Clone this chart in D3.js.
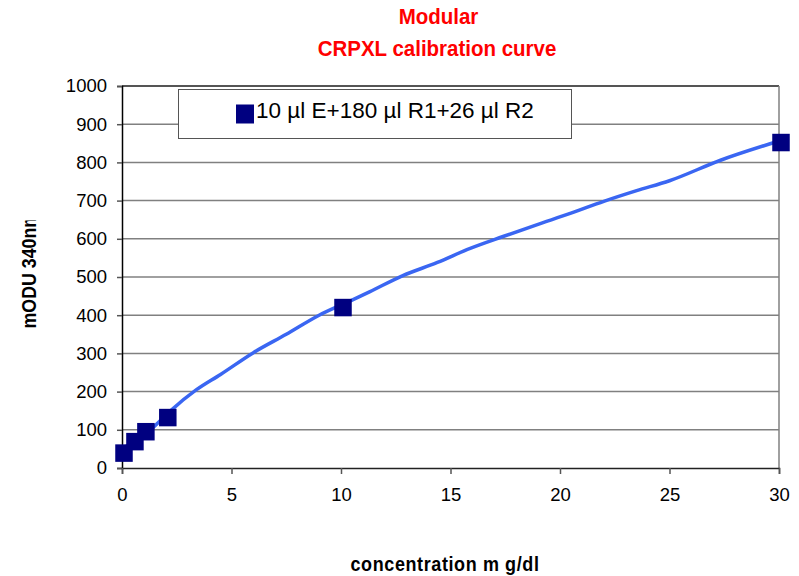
<!DOCTYPE html>
<html><head><meta charset="utf-8">
<script src="https://cdn.jsdelivr.net/npm/d3@7"></script>
<style>body{margin:0;background:#fff}svg{display:block}text{font-family:"Liberation Sans",Arial,sans-serif}</style>
</head><body>
<svg id="c" width="799" height="576"></svg>
<script>
const titleLines = ["Modular", "CRPXL calibration curve"];
const seriesName = "10 µl E+180 µl R1+26 µl R2";
const xLabel = "concentration m g/dl";
const yLabel = "mODU 340nm";
const xTicks = [0, 5, 10, 15, 20, 25, 30];
const yTicks = [0, 100, 200, 300, 400, 500, 600, 700, 800, 900, 1000];
// measured calibration points
const concentration = [0, 0.5, 1, 2, 10, 30];
const mODU = [39, 69, 95, 132, 420, 852];
// fitted curve
const curveX = [0, 1.4, 2.2, 3.4, 4.5, 6.0, 7.5, 9.0, 10.6, 11.3, 12.8, 14.4, 15.9, 17.4, 18.9, 20.5, 22.0, 23.5, 25.0, 27.3, 30];
const curveY = [50, 105, 149, 205, 245, 302, 350, 400, 442, 461, 503, 538, 575, 606, 636, 667, 698, 726, 752, 805, 856];

const svg = d3.select("#c");
const x = d3.scaleLinear().domain([0, 30]).range([122, 779]);
const y = d3.scaleLinear().domain([0, 1000]).range([468, 86]);

// gridlines
svg.append("g").selectAll("line").data(yTicks.filter(d => d > 0)).join("line")
  .attr("x1", x(0)).attr("x2", x(30))
  .attr("y1", d => y(d)).attr("y2", d => y(d))
  .attr("stroke", d => d === 1000 ? "#555" : "#808080")
  .attr("stroke-width", d => d === 1000 ? 2 : 1.5);
// right border
svg.append("line").attr("x1", x(30)).attr("x2", x(30)).attr("y1", y(1000)).attr("y2", y(0))
  .attr("stroke", "#808080").attr("stroke-width", 1.5);

// axes
const yAxis = d3.axisLeft(y).tickValues(yTicks).tickFormat(d3.format("d")).tickSize(5).tickPadding(10);
const gy = svg.append("g").attr("transform", `translate(${x(0)},0)`).call(yAxis);
gy.select(".domain").attr("stroke", "#000").attr("stroke-width", 1.5);
gy.selectAll(".tick line").attr("stroke", "#555").attr("stroke-width", 1.5);
gy.selectAll("text").attr("font-size", 18.5).attr("fill", "#000").attr("font-family", "Liberation Sans, Arial, sans-serif");

const xAxis = d3.axisBottom(x).tickValues(xTicks).tickFormat(d3.format("d")).tickSize(6).tickPadding(14);
const gx = svg.append("g").attr("transform", `translate(0,${y(0)})`).call(xAxis);
gx.select(".domain").attr("stroke", "#222").attr("stroke-width", 1.5);
gx.selectAll(".tick line").attr("stroke", "#555").attr("stroke-width", 1.5);
gx.selectAll("text").attr("font-size", 18.5).attr("fill", "#000").attr("font-family", "Liberation Sans, Arial, sans-serif");

// curve
const curvePts = curveX.map((d, i) => [d, curveY[i]]);
svg.append("path").datum(curvePts)
  .attr("d", d3.line().x(d => x(d[0])).y(d => y(d[1])).curve(d3.curveMonotoneX))
  .attr("fill", "none").attr("stroke", "#3A66F2").attr("stroke-width", 3.5);

// markers
const ms = 17.5;
svg.append("g").selectAll("rect").data(concentration.map((d, i) => [d, mODU[i]])).join("rect")
  .attr("x", d => x(d[0]) + 2 - ms / 2).attr("y", d => y(d[1]) - ms / 2)
  .attr("width", ms).attr("height", ms).attr("fill", "#000080");

// legend
const lg = svg.append("g");
lg.append("rect").attr("x", 178.5).attr("y", 89.5).attr("width", 393).attr("height", 49)
  .attr("fill", "#fff").attr("stroke", "#555").attr("stroke-width", 1);
lg.append("rect").attr("x", 236).attr("y", 104.5).attr("width", 18).attr("height", 19).attr("fill", "#000080");
lg.append("text").attr("x", 256).attr("y", 117.5).attr("font-size", 22.5).attr("fill", "#000").text(seriesName);

// titles
svg.append("text").attr("transform", "translate(438.5,24) scale(1,1.1)").attr("text-anchor", "middle")
  .attr("font-size", 20.5).attr("font-weight", "bold").attr("fill", "#ff0000").text(titleLines[0]);
svg.append("text").attr("transform", "translate(437,56) scale(1,1.1)").attr("text-anchor", "middle")
  .attr("font-size", 20.5).attr("font-weight", "bold").attr("fill", "#ff0000").text(titleLines[1]);

// x label
svg.append("text").attr("transform", "translate(445,571) scale(1,1.12)").attr("text-anchor", "middle")
  .attr("font-size", 18).attr("font-weight", "bold").attr("letter-spacing", 0.6).attr("fill", "#000").text(xLabel);

// y label (clipped at top like reference)
svg.append("clipPath").attr("id", "ylc").append("rect").attr("x", 0).attr("y", 220.5).attr("width", 60).attr("height", 200);
svg.append("g").attr("clip-path", "url(#ylc)")
  .append("text").attr("transform", "translate(36,328.5) rotate(-90) scale(1,1.15)")
  .attr("font-size", 17.8).attr("font-weight", "bold").attr("fill", "#000").text(yLabel);
</script>
</body></html>
